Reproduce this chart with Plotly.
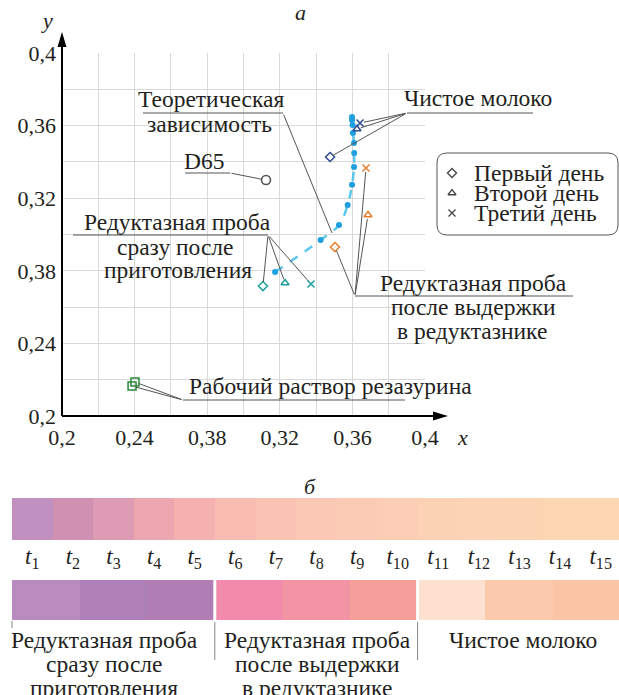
import plotly.graph_objects as go

# ---------------- data ----------------
x_tickvals = [0.2, 0.24, 0.28, 0.32, 0.36, 0.4]
x_ticktext = ['0,2', '0,24', '0,38', '0,32', '0,36', '0,4']
y_tickvals = [0.2, 0.24, 0.28, 0.32, 0.36, 0.4]
y_ticktext = ['0,2', '0,24', '0,38', '0,32', '0,36', '0,4']
minor_vals = [0.22, 0.26, 0.30, 0.34, 0.38]

theory_x = [0.3174, 0.3425, 0.3526, 0.3574, 0.3598, 0.3609, 0.3610, 0.3609, 0.3603, 0.3601, 0.3598, 0.3598]
theory_y = [0.2793, 0.2970, 0.3052, 0.3163, 0.3274, 0.3372, 0.3449, 0.3504, 0.3559, 0.3603, 0.3631, 0.3647]

milk_x = [0.3477, 0.3625, 0.3642]
milk_y = [0.3427, 0.3581, 0.3614]
after_x = [0.3504, 0.3686, 0.3675]
after_y = [0.2931, 0.3107, 0.3366]
before_x = [0.3107, 0.3229, 0.3372]
before_y = [0.2716, 0.2733, 0.2727]
d65_x = [0.3124]
d65_y = [0.3300]
resaz_x = [0.2402, 0.2386]
resaz_y = [0.2187, 0.2165]
day_symbols = ['diamond-open', 'triangle-up-open', 'x-thin-open']
day_names = ['Первый день', 'Второй день', 'Третий день']
legend_rows = [2, 1, 0]

strip1_labels = ['<i>t</i><sub>%d</sub>' % i for i in range(1, 16)]
strip1_colors = ['#bf90c0', '#cf90b2', '#de9bb4', '#eca6b0', '#f5b1b0', '#f8bcb1', '#f9c3b3',
                 '#fac8b4', '#fbcbb5', '#fbceb5', '#fcd2b5', '#fcd3b4', '#fcd4b4', '#fcd5b3', '#fcd6b2']
strip2_colors = ['#b98bbf', '#af7fb8', '#b07db5', '#f28aab', '#f294a4', '#f59f9b',
                 '#fde0cf', '#fbc9ac', '#fbc4a4']
group_labels = [['Редуктазная проба', 'сразу после', 'приготовления'],
                ['Редуктазная проба', 'после выдержки', 'в редуктазнике'],
                ['Чистое молоко']]
group_centers_px = [104, 317, 523]

# ---------------- geometry helpers ----------------
W, H = 619, 695
X0P, X1P = 62, 425
Y0P, Y1P = 416, 53
FONT = 'Liberation Serif'
TXT = '#231f20'
LEAD = '#555555'
LS = 23.5  # label font size


def px(xp):
    return xp / W


def py(yp):
    return 1 - yp / H


def dx(xp):
    return 0.2 + (xp - X0P) / (X1P - X0P) * 0.2


def dy(yp):
    return 0.2 + (Y0P - yp) / (Y0P - Y1P) * 0.2


fig = go.Figure()

fig.add_trace(go.Scatter(x=theory_x, y=theory_y, mode='lines',
                         line=dict(color='#5cc6ea', width=2.5, dash='dash', shape='spline'),
                         hoverinfo='skip', showlegend=False))
fig.add_trace(go.Scatter(x=theory_x, y=theory_y, mode='markers',
                         marker=dict(color='#1d9fe0', size=6), showlegend=False))


def group_trace(xs, ys, color):
    return go.Scatter(x=xs, y=ys, mode='markers', showlegend=False,
                      marker=dict(symbol=day_symbols, size=7, color=color,
                                  line=dict(color=color, width=1.5)))


fig.add_trace(group_trace(milk_x, milk_y, '#2d4b8e'))
fig.add_trace(group_trace(after_x, after_y, '#e67d2c'))
fig.add_trace(group_trace(before_x, before_y, '#1f9e9e'))
fig.add_trace(go.Scatter(x=d65_x, y=d65_y, mode='markers', showlegend=False,
                         marker=dict(symbol='circle-open', size=9, color='#555555',
                                     line=dict(width=1.6))))
fig.add_trace(go.Scatter(x=resaz_x, y=resaz_y, mode='markers', showlegend=False,
                         marker=dict(symbol='square-open', size=8, color='#2a8a3a',
                                     line=dict(width=1.5))))

# legend symbols on a small overlay axis inside the legend box
fig.add_trace(go.Scatter(x=[0] * 3, y=legend_rows, mode='markers', xaxis='x4', yaxis='y4',
                         showlegend=False, hoverinfo='skip',
                         marker=dict(symbol=day_symbols, size=7, color='#444444',
                                     line=dict(color='#444444', width=1.3))))

fig.add_trace(go.Bar(x=[i + 0.5 for i in range(len(strip1_colors))], y=[1] * len(strip1_colors),
                     width=1, marker=dict(color=strip1_colors, line=dict(width=0)),
                     xaxis='x2', yaxis='y2', showlegend=False, hoverinfo='skip'))
fig.add_trace(go.Bar(x=[i + 0.5 for i in range(len(strip2_colors))], y=[1] * len(strip2_colors),
                     width=1, marker=dict(color=strip2_colors, line=dict(width=0)),
                     xaxis='x3', yaxis='y3', showlegend=False, hoverinfo='skip'))

grid = '#d9d9d9'
tickf = dict(family=FONT, size=22, color=TXT)
fig.update_layout(
    template='none',
    width=W, height=H, autosize=False, margin=dict(l=0, r=0, t=0, b=0, pad=0),
    paper_bgcolor='white', plot_bgcolor='white',
    font=dict(family=FONT, color=TXT),
    showlegend=False,
    xaxis=dict(domain=[px(X0P), px(X1P)], range=[0.2, 0.4], tickmode='array', automargin=False,
               tickvals=x_tickvals, ticktext=x_ticktext, tickfont=tickf,
               showgrid=True, gridcolor=grid, gridwidth=1, zeroline=False, showline=False,
               ticks='', minor=dict(tickvals=minor_vals, showgrid=True, gridcolor=grid, gridwidth=1),
               anchor='y', ticklabelstandoff=6),
    yaxis=dict(domain=[py(Y0P), py(Y1P)], range=[0.2, 0.4], tickmode='array', automargin=False,
               tickvals=y_tickvals, ticktext=y_ticktext, tickfont=tickf,
               showgrid=True, gridcolor=grid, gridwidth=1, zeroline=False, showline=False,
               ticks='', minor=dict(tickvals=minor_vals, showgrid=True, gridcolor=grid, gridwidth=1),
               anchor='x', ticklabelstandoff=5),
    xaxis2=dict(domain=[0, 1], range=[-12 / 40.6, (W - 12) / 40.6], anchor='y2', automargin=False,
                tickmode='array', tickvals=[i + 0.5 for i in range(15)], ticktext=strip1_labels,
                tickfont=dict(family=FONT, size=23, color=TXT), ticks='',
                showgrid=False, zeroline=False, showline=False),
    yaxis2=dict(domain=[py(540), py(498)], range=[0, 1], visible=False, anchor='x2', automargin=False),
    xaxis3=dict(domain=[0, 1], range=[-12 / 67.6, (W - 12) / 67.6], anchor='y3', visible=False,
                automargin=False),
    yaxis3=dict(domain=[py(620), py(580)], range=[0, 1], visible=False, anchor='x3', automargin=False),
    xaxis4=dict(domain=[px(444), px(460)], range=[-1, 1], anchor='y4', visible=False, automargin=False),
    yaxis4=dict(domain=[py(223), py(163)], range=[-0.5, 2.5], anchor='x4', visible=False, automargin=False),
    bargap=0,
)

shapes = []
ann = []

# axes with arrow heads
shapes.append(dict(type='line', xref='paper', yref='paper', x0=px(X0P), y0=py(Y0P), x1=px(438), y1=py(Y0P),
                   line=dict(color='black', width=2)))
shapes.append(dict(type='path', xref='paper', yref='paper', fillcolor='black', line=dict(width=0),
                   path='M %f %f L %f %f L %f %f Z' % (px(448), py(416), px(433), py(411.5), px(433), py(420.5))))
shapes.append(dict(type='line', xref='paper', yref='paper', x0=px(X0P), y0=py(Y0P), x1=px(X0P), y1=py(42),
                   line=dict(color='black', width=2)))
shapes.append(dict(type='path', xref='paper', yref='paper', fillcolor='black', line=dict(width=0),
                   path='M %f %f L %f %f L %f %f Z' % (px(62), py(32), px(57.5), py(47), px(66.5), py(47))))


def label(text, cx, cy, size=LS, anchor='center'):
    ann.append(dict(text=text, x=px(cx), y=py(cy), xref='paper', yref='paper', showarrow=False,
                    xanchor=anchor, yanchor='middle', font=dict(family=FONT, size=size, color=TXT)))


def underline(x0, x1, y):
    shapes.append(dict(type='line', xref='paper', yref='paper', x0=px(x0), x1=px(x1), y0=py(y), y1=py(y),
                       line=dict(color=LEAD, width=1)))


def leader(tx, ty, vx, vy, standoff=4):
    ann.append(dict(text='', x=tx, y=ty, xref='x', yref='y', ax=dx(vx), ay=dy(vy), axref='x', ayref='y',
                    showarrow=True, arrowhead=0, arrowwidth=1, arrowcolor=LEAD, standoff=standoff))


label('<i>y</i>', 47, 20, size=22)
label('<i>x</i>', 462, 437, size=22)
label('<i>а</i>', 300, 12, size=22)
label('<i>б</i>', 310, 486, size=22)

label('Теоретическая', 211, 99)
label('зависимость', 210, 124)
underline(143, 283, 113)
leader(dx(332), dy(233), 283, 113, standoff=0)

label('D65', 204, 161)
underline(185, 230, 173)
leader(d65_x[0], d65_y[0], 230, 173, standoff=5)

label('Чистое молоко', 478, 98)
underline(407, 533, 113)
for xx, yy in zip(milk_x, milk_y):
    leader(xx, yy, 407, 113)

label('Редуктазная проба', 177, 222)
label('сразу после', 175, 247)
label('приготовления', 178, 270)
underline(73, 268, 235)
for xx, yy in zip(before_x, before_y):
    leader(xx, yy, 268, 235)

label('Редуктазная проба', 473, 283)
label('после выдержки', 473, 307)
label('в редуктазнике', 472, 331)
underline(355, 573, 296)
for xx, yy in zip(after_x, after_y):
    leader(xx, yy, 355, 296)

label('Рабочий раствор резазурина', 330, 386)
underline(183, 405, 400)
for xx, yy in zip(resaz_x, resaz_y):
    leader(xx, yy, 183, 400, standoff=4)

# legend box (rounded)
lx0, lx1, ly0, ly1, r = 437, 618, 153, 235, 10
path = ('M {a} {b} L {c} {b} Q {d} {b} {d} {e} L {d} {f} Q {d} {g} {c} {g} L {a} {g} '
        'Q {h} {g} {h} {f} L {h} {e} Q {h} {b} {a} {b} Z').format(
    a=px(lx0 + r), b=py(ly0), c=px(lx1 - r), d=px(lx1), e=py(ly0 + r), f=py(ly1 - r), g=py(ly1), h=px(lx0))
shapes.append(dict(type='path', xref='paper', yref='paper', path=path, line=dict(color='#555555', width=1),
                   fillcolor='white', layer='below'))
for i, name in enumerate(day_names):
    label(name, 472, 173 + 20 * i, anchor='left')

# strip 2 separators and guide lines
for xv in [3, 6]:
    shapes.append(dict(type='line', xref='x3', yref='paper', x0=xv, x1=xv, y0=py(578), y1=py(622),
                       line=dict(color='white', width=3)))
    shapes.append(dict(type='line', xref='x3', yref='paper', x0=xv, x1=xv, y0=py(622), y1=py(660),
                       line=dict(color='#888888', width=1)))
shapes.append(dict(type='line', xref='paper', yref='paper', x0=px(12), x1=px(12), y0=py(621), y1=py(628),
                   line=dict(color='#888888', width=1)))

for lines, cx in zip(group_labels, group_centers_px):
    for j, t in enumerate(lines):
        label(t, cx, 640 + 24 * j)

fig.update_layout(shapes=shapes, annotations=ann)
fig.write_html('out.html')
